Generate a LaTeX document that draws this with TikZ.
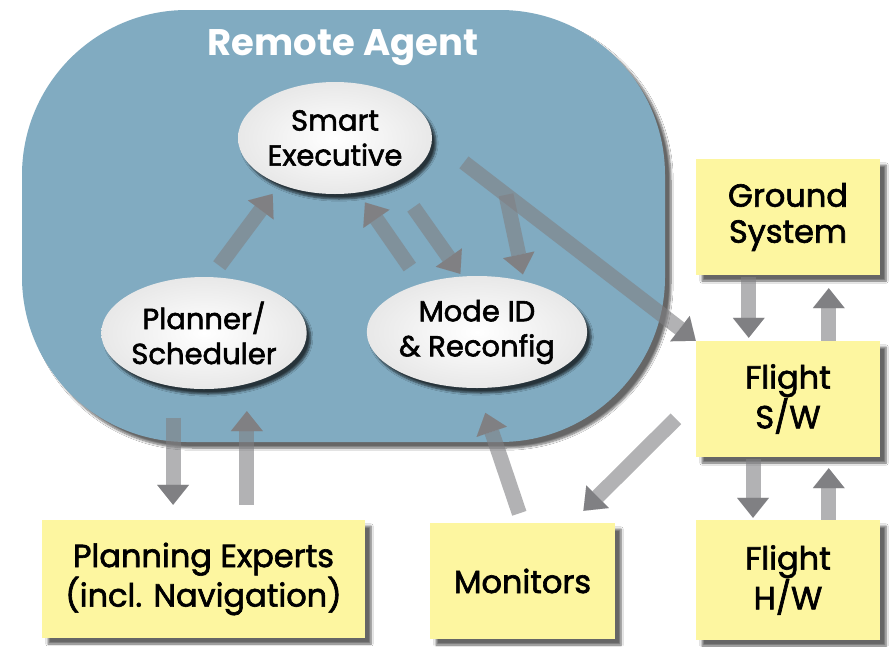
\documentclass[tikz,border=0pt]{standalone}
\usepackage{fontspec}
\setmainfont{Poppins}
\newfontfamily\labelfont{Poppins}[FakeBold=2]
\usetikzlibrary{shapes.geometric,arrows.meta,shadows.blur,calc}
\definecolor{agentblue}{RGB}{129,171,193}
\definecolor{boxyellow}{RGB}{253,246,160}
\definecolor{arrowgray}{RGB}{128,128,131}
\tikzstyle{agent}=[rectangle, rounded corners=165pt, fill=agentblue, minimum width=643pt, minimum height=432pt, blur shadow={shadow xshift=6pt, shadow yshift=-6pt, shadow opacity=60, shadow blur steps=8}]
\tikzstyle{agenttitle}=[font=\fontsize{37}{40}\selectfont\bfseries]
\tikzstyle{module}=[ellipse, inner sep=0pt, minimum width=194pt, minimum height=112pt, shading=radial, inner color=white, outer color=black!9, align=center, font=\labelfont\fontsize{29}{35}\selectfont, blur shadow={shadow xshift=4pt, shadow yshift=-5pt, shadow opacity=70, shadow blur steps=6}]
\tikzstyle{unit}=[rectangle, fill=boxyellow, align=center, font=\labelfont\fontsize{32}{36}\selectfont, blur shadow={shadow xshift=6pt, shadow yshift=-6pt, shadow opacity=60, shadow blur steps=6}]
\tikzstyle{flow}=[line width=15pt, draw=arrowgray, draw opacity=.6, fill opacity=1, -{Triangle[width=32pt,length=20pt,line width=0.01pt]}]

\begin{document}
\begin{tikzpicture}[x=1pt, y=-1pt]
\useasboundingbox[fill=white] (0,0) rectangle (891,646);
\node[agent] (agent) at (343.5,226) {};
\node[agenttitle, text=white] (title) at (343,48) {Remote Agent};

\node[module] (exec) at (335,138) {Smart\\Executive};
\node[module] (planner) at (204,333) {Planner/\\Scheduler};
\node[module] (modeid) at (477,332) {Mode ID\\\& Reconfig};

\node[unit, minimum width=184pt, minimum height=116pt] (ground) at (788,217) {Ground\\System};
\node[unit, minimum width=184pt, minimum height=116pt] (flightsw) at (788,399) {Flight\\S/W};
\node[unit, minimum width=184pt, minimum height=120pt] (flighthw) at (788,580) {Flight\\H/W};
\node[unit, minimum width=323pt, minimum height=118pt] (experts) at (203.5,579) {Planning Experts\\(incl. Navigation)};
\node[unit, minimum width=185pt, minimum height=116pt] (monitors) at (522.5,581) {Monitors};

% inside the agent
\draw[flow, shorten <=14pt, shorten >=12pt] (planner.83) -- (exec.220);
\draw[flow, shorten <=20pt, shorten >=12pt] (modeid.139) -- (exec.293);
\draw[flow, shorten <=31pt, shorten >=3pt] (exec.324) -- (modeid.105);
\draw[flow, shorten <=40pt] (exec.east) -- coordinate[pos=.28] (split) (flightsw.north west);
\draw[flow, shorten >=7pt] (split) -- (modeid.47);

% vertical links
\foreach \a/\b/\s/\t in {planner.240/experts.north/31pt/15pt, ground.236/flightsw.north/2pt/3pt, flightsw.239/flighthw.north/2pt/2pt}
 \draw[flow, shorten <=\s, shorten >=\t] (\a) -- (\a |- \b);
\foreach \a/\b/\s/\t in {planner.310/experts.north/15pt/27pt, ground.305/flightsw.north/0pt/13pt, flightsw.305/flighthw.north/0pt/11pt}
 \draw[flow, shorten <=\s, shorten >=\t] (\a |- \b) -- (\a);

\draw[flow, shorten <=10pt, shorten >=26pt] (monitors.north) -- (modeid.south);
\draw[flow, shorten <=28pt, shorten >=17pt] (flightsw.west) -- (monitors.50);
\end{tikzpicture}
\end{document}
